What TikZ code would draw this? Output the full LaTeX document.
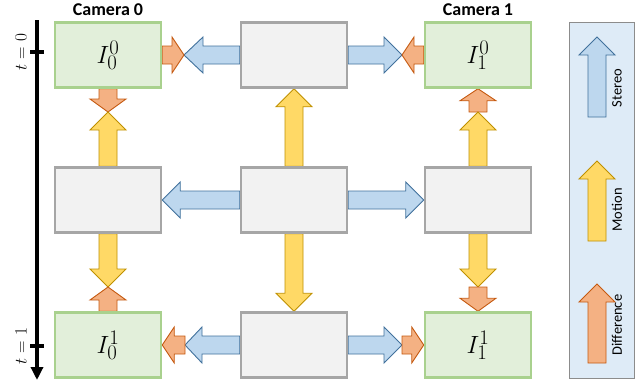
\documentclass[tikz,border=0pt]{standalone}
\usepackage{fontspec}
\setsansfont{Carlito}
\usetikzlibrary{calc,arrows.meta,backgrounds}
\definecolor{greenfill}{HTML}{E2EFDA}
\definecolor{greenline}{HTML}{A9D18E}
\definecolor{grayfill}{HTML}{F2F2F2}
\definecolor{grayline}{HTML}{A6A6A6}
\definecolor{bluefill}{HTML}{BDD7EE}
\definecolor{blueline}{HTML}{41719C}
\definecolor{orangefill}{HTML}{F4B183}
\definecolor{orangeline}{HTML}{C55A11}
\definecolor{yellowfill}{HTML}{FFD966}
\definecolor{yellowline}{HTML}{BF9000}
\definecolor{legfill}{HTML}{DEEBF7}
\definecolor{legline}{HTML}{8C8C8C}
\newcommand{\arrsw}{9pt}
\newcommand{\arrhw}{18pt}
\newcommand{\blockarrow}[4]{%
  \coordinate (bah) at ($(#3)!#4!(#2)$);
  \draw[#1] ($(#2)!\arrsw!90:(#3)$) -- ($(bah)!\arrsw!90:(#3)$) -- ($(bah)!\arrhw!90:(#3)$) -- (#3) -- ($(bah)!\arrhw!-90:(#3)$) -- ($(bah)!\arrsw!-90:(#3)$) -- ($(#2)!\arrsw!-90:(#3)$) -- cycle;
}
\tikzset{
  imgbox/.style={draw=greenline, fill=greenfill, line width=2.5pt, minimum width=106pt, minimum height=65pt, inner sep=0pt, font=\fontsize{28}{30}\selectfont},
  graybox/.style={draw=grayline, fill=grayfill, line width=2.5pt, minimum width=106pt, minimum height=65pt, inner sep=0pt},
  legbox/.style={draw=legline, fill=legfill, line width=1pt, minimum width=65pt, minimum height=356pt, inner sep=0pt},
  bluearr/.style={draw=blueline, fill=bluefill, line width=0.9pt, line join=miter},
  orangearr/.style={draw=orangeline, fill=orangefill, line width=0.9pt, line join=miter},
  yellowarr/.style={draw=yellowline, fill=yellowfill, line width=0.9pt, line join=miter},
  camlabel/.style={font=\sffamily\bfseries\fontsize{18}{20}\selectfont},
  leglabel/.style={font=\sffamily\fontsize{14.5}{16}\selectfont, rotate=90},
  tlabel/.style={font=\fontsize{18}{20}\selectfont, rotate=90},
}
\begin{document}
\begin{tikzpicture}[x=1pt,y=-1pt]
\useasboundingbox (0,0) rectangle (642,383);
% boxes
\node[imgbox] (i00) at (108,55) {$I_0^0$};
\node[graybox] (g0) at (294,55) {};
\node[imgbox] (i10) at (478,55) {$I_1^0$};
\node[graybox] (m0) at (108,200) {};
\node[graybox] (m1) at (294,200) {};
\node[graybox] (m2) at (478,200) {};
\node[imgbox] (i01) at (108,345) {$I_0^1$};
\node[graybox] (g2) at (294,345) {};
\node[imgbox] (i11) at (478,345) {$I_1^1$};
% camera labels
\node[camlabel] (cam0) at (108,10) {Camera 0};
\node[camlabel] (cam1) at (478,10) {Camera 1};
% junctions
\coordinate (jtl) at (184,55);
\coordinate (jtr) at (402,55);
\coordinate (jbl) at (185,345);
\coordinate (jbr) at (402,345);
\coordinate (jlu) at (108,112);
\coordinate (jll) at (108,287);
\coordinate (jru) at (478,112);
\coordinate (jrl) at (478,287);
\begin{scope}[on background layer]
\blockarrow{bluearr}{g0.west}{jtl}{19pt}
\blockarrow{orangearr}{i00.east}{jtl}{12pt}
\blockarrow{bluearr}{g0.east}{jtr}{18pt}
\blockarrow{orangearr}{i10.west}{jtr}{12pt}
\blockarrow{bluearr}{m1.west}{m0.east}{18pt}
\blockarrow{bluearr}{m1.east}{m2.west}{18pt}
\blockarrow{bluearr}{g2.west}{jbl}{17pt}
\blockarrow{orangearr}{jbl}{i01.east}{12pt}
\blockarrow{bluearr}{g2.east}{jbr}{18pt}
\blockarrow{orangearr}{jbr}{i11.west}{12pt}
\blockarrow{orangearr}{i00.south}{jlu}{13pt}
\blockarrow{yellowarr}{m0.north}{jlu}{18pt}
\blockarrow{yellowarr}{m1.north}{g0.south}{18pt}
\blockarrow{orangearr}{jru}{i10.south}{12pt}
\blockarrow{yellowarr}{m2.north}{jru}{18pt}
\blockarrow{yellowarr}{m0.south}{jll}{18pt}
\blockarrow{orangearr}{i01.north}{jll}{13pt}
\blockarrow{yellowarr}{m1.south}{g2.north}{18pt}
\blockarrow{yellowarr}{m2.south}{jrl}{18pt}
\blockarrow{orangearr}{jrl}{i11.north}{13pt}
\end{scope}
% legend
\node[legbox] (leg) at (602,200) {};
\coordinate (ls0) at (597,117); \coordinate (lt0) at (597,37);
\coordinate (ls1) at (597,241); \coordinate (lt1) at (597,161);
\coordinate (ls2) at (597,363); \coordinate (lt2) at (597,284);
\blockarrow{bluearr}{ls0}{lt0}{18pt}
\blockarrow{yellowarr}{ls1}{lt1}{18pt}
\blockarrow{orangearr}{ls2}{lt2}{18pt}
\node[leglabel] (lstereo) at (617,88) {Stereo};
\node[leglabel] (lmotion) at (617,210) {Motion};
\node[leglabel] (ldiff) at (617,325) {Difference};
% time axis
\coordinate (ta) at (37,20);
\coordinate (tb) at (37,380);
\draw[line width=3.5pt, -{Triangle[length=13pt,width=12pt]}] (ta) -- (tb);
\coordinate (t0a) at (30,52); \coordinate (t0b) at (44,52);
\coordinate (t1a) at (30,346); \coordinate (t1b) at (44,346);
\draw[line width=4pt] (t0a) -- (t0b);
\draw[line width=4pt] (t1a) -- (t1b);
\node[tlabel] (lt0lab) at (21,52) {$t=0$};
\node[tlabel] (lt1lab) at (21,346) {$t=1$};
\end{tikzpicture}
\end{document}
